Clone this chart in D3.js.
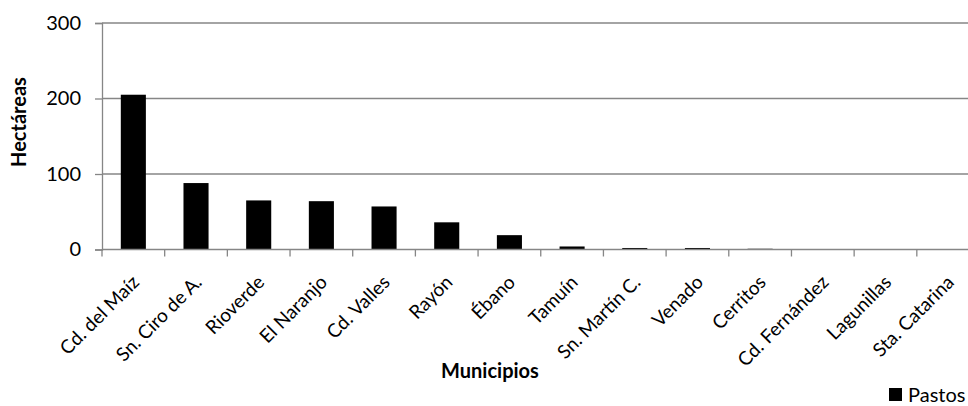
<!DOCTYPE html>
<html>
<head>
<meta charset="utf-8">
<script src="https://cdn.jsdelivr.net/npm/d3@7"></script>
<style>
  html, body { margin: 0; padding: 0; background: #fff; }
  svg { display: block; }
  text { font-family: Lato, "Open Sans", sans-serif; fill: #000; }
</style>
</head>
<body>
<svg id="chart" width="968" height="406"></svg>
<script>
// Superficie de pastos por municipio (hectáreas)
const municipios = [
  "Cd. del Maíz", "Sn. Ciro de A.", "Rioverde", "El Naranjo", "Cd. Valles",
  "Rayón", "Ébano", "Tamuín", "Sn. Martín C.", "Venado", "Cerritos",
  "Cd. Fernández", "Lagunillas", "Sta. Catarina"
];
const pastos = [205, 88, 65, 64, 57, 36, 19, 4, 2, 2, 1, 0, 0, 0];
const yTicks = [0, 100, 200, 300];
const serieNombre = "Pastos";
const tituloY = "Hectáreas";
const tituloX = "Municipios";

const svg = d3.select("#chart");
const plotLeft = 102, plotRight = 979.5, plotTop = 23, plotBottom = 249.5;
const axisColor = "#868686";

const x = d3.scaleBand().domain(municipios).range([plotLeft, plotRight])
  .paddingInner(0.6).paddingOuter(0.3);
const y = d3.scaleLinear().domain([0, 300]).range([plotBottom, plotTop]);

// Gridlines
svg.append("g").selectAll("line").data(yTicks.filter(d => d > 0)).join("line")
  .attr("x1", plotLeft).attr("x2", plotRight)
  .attr("y1", d => y(d)).attr("y2", d => y(d))
  .attr("stroke", axisColor).attr("stroke-width", 1.3);

// Bars
svg.append("g").selectAll("rect").data(municipios).join("rect")
  .attr("x", d => x(d))
  .attr("width", x.bandwidth())
  .attr("y", (d, i) => y(pastos[i]))
  .attr("height", (d, i) => y(0) - y(pastos[i]))
  .attr("fill", "#000");

// Y axis
const yAxis = d3.axisLeft(y).tickValues(yTicks).tickSize(7).tickPadding(14);
const gy = svg.append("g").attr("transform", `translate(${plotLeft},0)`).call(yAxis);
gy.select(".domain").attr("stroke", axisColor).attr("stroke-width", 1.3);
gy.selectAll(".tick line").attr("stroke", axisColor).attr("stroke-width", 1.3);
gy.selectAll(".tick text").style("font-size", "20px")
  .style("font-family", "Lato, 'Open Sans', sans-serif").attr("fill", "#000");

// X axis line and ticks at category boundaries
const boundaries = d3.range(municipios.length + 1)
  .map(i => plotLeft + i * (plotRight - plotLeft) / municipios.length);
svg.append("line").attr("x1", plotLeft).attr("x2", plotRight)
  .attr("y1", plotBottom).attr("y2", plotBottom)
  .attr("stroke", axisColor).attr("stroke-width", 1.3);
svg.append("g").selectAll("line").data(boundaries).join("line")
  .attr("x1", d => d).attr("x2", d => d)
  .attr("y1", plotBottom).attr("y2", plotBottom + 7)
  .attr("stroke", axisColor).attr("stroke-width", 1.3);

// Category labels
svg.append("g").selectAll("text").data(municipios).join("text")
  .attr("transform", d => `translate(${x(d) + x.bandwidth() / 2 + 7},${plotBottom + 34}) rotate(-45)`)
  .attr("text-anchor", "end")
  .style("font-size", "19px")
  .text(d => d);

// Axis titles
svg.append("text")
  .attr("transform", `translate(26,122) rotate(-90)`)
  .attr("text-anchor", "middle")
  .style("font-size", "20px").style("font-weight", "bold")
  .text(tituloY);
svg.append("text")
  .attr("x", 490).attr("y", 378)
  .attr("text-anchor", "middle")
  .style("font-size", "20px").style("font-weight", "bold")
  .text(tituloX);

// Legend
const lg = svg.append("g").attr("transform", "translate(889,388)");
lg.append("rect").attr("width", 13).attr("height", 13).attr("fill", "#000");
lg.append("text").attr("x", 19).attr("y", 13.5).style("font-size", "20px").text(serieNombre);
</script>
</body>
</html>
